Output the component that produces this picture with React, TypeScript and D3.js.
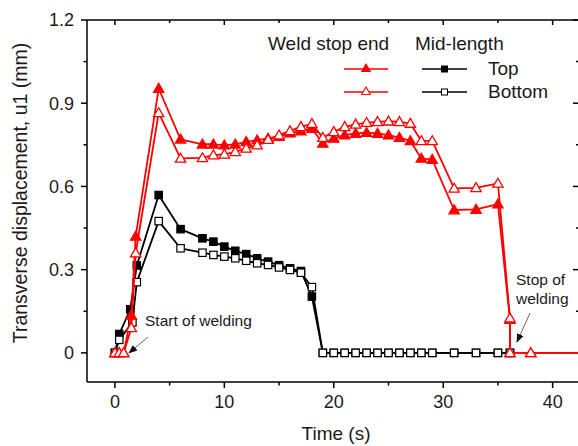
import React from 'react';
import * as d3 from 'd3';

// Weld stop end, top surface (filled red triangles)
const stopTopT = [0, 0.4, 0.8, 1.5, 1.9, 4, 6, 8, 9, 10, 11, 12, 13, 14, 15, 16, 17, 18, 19, 20, 21, 22, 23, 24, 25, 26, 27, 28, 29, 31, 33, 35, 36.1, 36.1, 38, 44];
const stopTopV = [0, 0, 0, 0.135, 0.42, 0.953, 0.77, 0.752, 0.752, 0.749, 0.752, 0.761, 0.767, 0.773, 0.78, 0.792, 0.8, 0.809, 0.755, 0.773, 0.785, 0.791, 0.794, 0.791, 0.785, 0.776, 0.764, 0.701, 0.697, 0.515, 0.517, 0.536, 0.12, 0, 0, 0];

// Weld stop end, bottom surface (hollow red triangles)
const stopBotT = [0, 0.4, 0.8, 1.5, 1.9, 4, 6, 8, 9, 10, 11, 12, 13, 14, 15, 16, 17, 18, 19, 20, 21, 22, 23, 24, 25, 26, 27, 28, 29, 31, 33, 35, 36.1, 36.1, 38, 44];
const stopBotV = [0, 0, 0, 0.09, 0.36, 0.865, 0.701, 0.703, 0.713, 0.716, 0.725, 0.737, 0.749, 0.769, 0.785, 0.8, 0.815, 0.826, 0.776, 0.797, 0.815, 0.824, 0.83, 0.833, 0.835, 0.833, 0.827, 0.764, 0.764, 0.593, 0.595, 0.611, 0.125, 0, 0, 0];

// Mid-length, top surface (filled black squares)
const midTopT = [0, 0.4, 1.4, 2, 4, 6, 8, 9, 10, 11, 12, 13, 14, 15, 16, 17, 18, 19, 20, 21, 22, 23, 24, 25, 26, 27, 28, 29, 31, 33, 35, 36.1];
const midTopV = [0, 0.068, 0.157, 0.315, 0.569, 0.446, 0.413, 0.401, 0.383, 0.368, 0.356, 0.341, 0.329, 0.316, 0.305, 0.295, 0.203, 0, 0, 0, 0, 0, 0, 0, 0, 0, 0, 0, 0, 0, 0, 0];

// Mid-length, bottom surface (hollow black squares)
const midBotT = [0, 0.4, 1.6, 2, 4, 6, 8, 9, 10, 11, 12, 13, 14, 15, 16, 17, 18, 19, 20, 21, 22, 23, 24, 25, 26, 27, 28, 29, 31, 33, 35, 36.1];
const midBotV = [0, 0.047, 0.11, 0.255, 0.475, 0.377, 0.361, 0.353, 0.347, 0.341, 0.332, 0.323, 0.317, 0.308, 0.299, 0.289, 0.237, 0, 0, 0, 0, 0, 0, 0, 0, 0, 0, 0, 0, 0, 0, 0];

const xTicks = [0, 10, 20, 30, 40];
const xMinor = [5, 15, 25, 35];
const yTicks = [0, 0.3, 0.6, 0.9, 1.2];
const yMinor = [0.15, 0.45, 0.75, 1.05];

const W = 578;
const H = 446;
const left = 87, right = 580, top = 20, bottom = 382;
const font = 'Arial, "Liberation Sans", sans-serif';
const txt = '#1a1a1a';

const x = d3.scaleLinear().domain([-2.55, 42.5]).range([left, right]);
const y = d3.scaleLinear().domain([-0.105, 1.2]).range([bottom, top]);

type Pt = [number, number];
const zip = (t: number[], v: number[]): Pt[] => t.map((d, i) => [d, v[i]]);

const line = d3.line<Pt>().x(d => x(d[0])).y(d => y(d[1]));

const tri = d3.symbol().type(d3.symbolTriangle).size(46);
const triSmall = d3.symbol().type(d3.symbolTriangle).size(32);

function Series({ pts, color, filled, shape }: { pts: Pt[]; color: string; filled: boolean; shape: 'tri' | 'sq' }) {
  return (
    <g>
      <path d={line(pts) || ''} fill="none" stroke={color} strokeWidth={1.8} strokeLinejoin="round" />
      {pts.map((d, i) => {
        const cx = x(d[0]), cy = y(d[1]);
        if (shape === 'sq') {
          return <rect key={i} x={cx - 3.7} y={cy - 3.7} width={7.4} height={7.4} fill={filled ? color : '#fff'} stroke={color} strokeWidth={1.2} />;
        }
        return <path key={i} d={tri() || ''} transform={`translate(${cx},${cy + 0.8})`} fill={filled ? color : '#fff'} stroke={color} strokeWidth={1.3} />;
      })}
    </g>
  );
}

function LegendItem({ x0, x1, yy, color, filled, shape }: { x0: number; x1: number; yy: number; color: string; filled: boolean; shape: 'tri' | 'sq' }) {
  const cx = (x0 + x1) / 2;
  return (
    <g>
      <line x1={x0} x2={x1} y1={yy} y2={yy} stroke={color} strokeWidth={1.7} />
      {shape === 'sq'
        ? <rect x={cx - 3} y={yy - 3} width={6} height={6} fill={filled ? color : '#fff'} stroke={color} strokeWidth={1} />
        : <path d={triSmall() || ''} transform={`translate(${cx},${yy})`} fill={filled ? color : '#fff'} stroke={color} strokeWidth={1.1} />}
    </g>
  );
}

export default function App() {
  const red = '#ff0000';
  const black = '#000000';
  return (
    <svg width={W} height={H} style={{ position: 'absolute', left: 0, top: 0, background: '#fff' }} fontFamily={font}>
      <defs>
        <clipPath id="plot">
          <rect x={left} y={top} width={right - left} height={bottom - top} />
        </clipPath>
        <marker id="ah" viewBox="0 0 10 10" refX="9" refY="5" markerWidth="9" markerHeight="9" markerUnits="userSpaceOnUse" orient="auto-start-reverse">
          <path d="M0,1 L10,5 L0,9 z" fill="#111" />
        </marker>
      </defs>

      {/* axes frame */}
      <g stroke="#000" strokeWidth={1.5} fill="none">
        <line x1={left} x2={left} y1={top} y2={bottom} />
        <line x1={left} x2={right} y1={bottom} y2={bottom} />
        <line x1={left} x2={right} y1={top} y2={top} />
        <line x1={right} x2={right} y1={top} y2={bottom} />
        {yTicks.map(t => <line key={'yl' + t} x1={left - 6} x2={left} y1={y(t)} y2={y(t)} />)}
        {yMinor.map(t => <line key={'ym' + t} x1={left - 3.5} x2={left} y1={y(t)} y2={y(t)} />)}
        {yTicks.map(t => <line key={'yr' + t} x1={right - 7} x2={right} y1={y(t)} y2={y(t)} />)}
        {yMinor.map(t => <line key={'yrm' + t} x1={right - 4} x2={right} y1={y(t)} y2={y(t)} />)}
        {xTicks.map(t => <line key={'xb' + t} x1={x(t)} x2={x(t)} y1={bottom} y2={bottom + 6} />)}
        {xMinor.map(t => <line key={'xbm' + t} x1={x(t)} x2={x(t)} y1={bottom} y2={bottom + 3.5} />)}
        {xTicks.map(t => <line key={'xt' + t} x1={x(t)} x2={x(t)} y1={top} y2={top + 5} />)}
        {xMinor.map(t => <line key={'xtm' + t} x1={x(t)} x2={x(t)} y1={top} y2={top + 3} />)}
      </g>

      {/* tick labels */}
      <g fill={txt} fontSize={18}>
        {yTicks.map(t => (
          <text key={'yt' + t} x={left - 13} y={y(t)} dy="0.36em" textAnchor="end">{t === 0 ? '0' : t.toFixed(1)}</text>
        ))}
        {xTicks.map(t => (
          <text key={'xt' + t} x={x(t)} y={408} textAnchor="middle">{t}</text>
        ))}
      </g>

      <text x={336} y={440} textAnchor="middle" fontSize={19} fill={txt}>Time (s)</text>
      <text transform="translate(27,193) rotate(-90)" textAnchor="middle" fontSize={19.5} fill={txt}>Transverse displacement, u1 (mm)</text>

      {/* data */}
      <g clipPath="url(#plot)">
        <Series pts={zip(midTopT, midTopV)} color={black} filled={true} shape="sq" />
        <Series pts={zip(midBotT, midBotV)} color={black} filled={false} shape="sq" />
        <Series pts={zip(stopTopT, stopTopV)} color={red} filled={true} shape="tri" />
        <Series pts={zip(stopBotT, stopBotV)} color={red} filled={false} shape="tri" />
      </g>

      {/* legend */}
      <g fill={txt} fontSize={19}>
        <text x={268} y={50}>Weld stop end</text>
        <text x={415} y={50}>Mid-length</text>
        <text x={488} y={75}>Top</text>
        <text x={488} y={98}>Bottom</text>
      </g>
      <LegendItem x0={344} x1={388} yy={69} color={red} filled={true} shape="tri" />
      <LegendItem x0={344} x1={388} yy={92} color={red} filled={false} shape="tri" />
      <LegendItem x0={422} x1={467} yy={69} color={black} filled={true} shape="sq" />
      <LegendItem x0={422} x1={467} yy={92} color={black} filled={false} shape="sq" />

      {/* annotations */}
      <text x={145} y={326} fontSize={15.5} fill={txt}>Start of welding</text>
      <line x1={148} y1={337} x2={129} y2={353} stroke="#555" strokeWidth={0.9} markerEnd="url(#ah)" />
      <text x={516} y={285} fontSize={15.5} fill={txt}>Stop of</text>
      <text x={516} y={304} fontSize={15.5} fill={txt}>welding</text>
      <line x1={530} y1={313} x2={517} y2={342} stroke="#555" strokeWidth={0.9} markerEnd="url(#ah)" />
    </svg>
  );
}
